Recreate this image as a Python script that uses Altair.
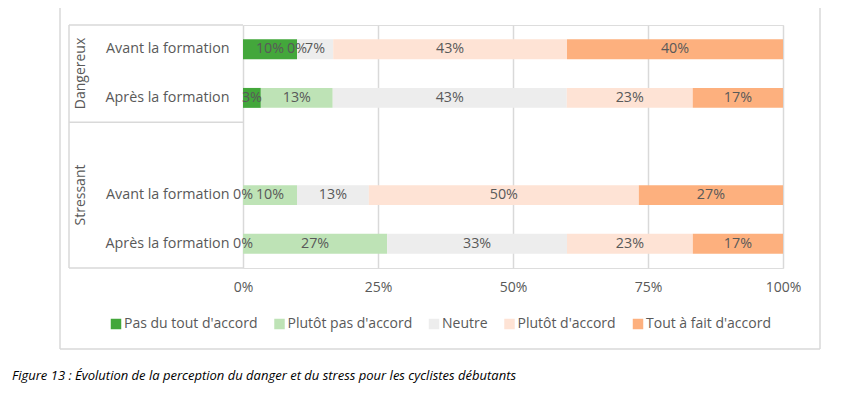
import altair as alt
import pandas as pd

# ---- data -------------------------------------------------------------
categories = ["Pas du tout d'accord", "Plutôt pas d'accord", "Neutre",
              "Plutôt d'accord", "Tout à fait d'accord"]
colors = ["#43A73B", "#BEE3B6", "#EDEDED", "#FEE3D5", "#FDB07E"]

row_keys = ["D1", "D2", "gap", "S1", "S2"]
row_labels = ["Avant la formation", "Après la formation", "",
              "Avant la formation", "Après la formation"]
groups = ["Dangereux", "Stressant"]

dangereux_avant = [10.0, 0.0, 6.7, 43.3, 40.0]
dangereux_apres = [3.3, 13.3, 43.3, 23.3, 16.7]
stressant_avant = [0.0, 10.0, 13.3, 50.0, 26.7]
stressant_apres = [0.0, 26.7, 33.3, 23.3, 16.7]

x_ticks = [0, 0.25, 0.5, 0.75, 1]
caption = ("Figure 13 : Évolution de la perception du danger et du stress "
           "pour les cyclistes débutants")

series = {"D1": dangereux_avant, "D2": dangereux_apres,
          "S1": stressant_avant, "S2": stressant_apres}
records = []
for key, vals in series.items():
    for i, (cat, v) in enumerate(zip(categories, vals)):
        records.append({"row": key, "cat": cat, "order": i, "value": v})
df = pd.DataFrame(records)

label_map = "{" + ",".join(f"'{k}':'{l}'" for k, l in zip(row_keys, row_labels)) + "}"

FONT = "Open Sans"
TXT = "#595959"
LINE = "#D9D9D9"

W, H = 540, 243

base = alt.Chart(df).transform_stack(
    stack="value", groupby=["row"], as_=["x0", "x1"], offset="normalize",
    sort=[alt.SortField("order", order="ascending")]
).transform_calculate(
    mid="(datum.x0 + datum.x1) / 2",
    lbl="format(datum.value, '.0f') + '%'"
)

yenc = alt.Y("row:N", scale=alt.Scale(domain=row_keys, paddingInner=0.59, paddingOuter=0.295),
             axis=alt.Axis(title=None, labelExpr=f"{label_map}[datum.value]",
                           ticks=False, domain=False, labelPadding=14,
                           labelFont=FONT, labelFontSize=14.3, labelColor=TXT,
                           labelLimit=300))

bars = base.mark_bar().encode(
    x=alt.X("x0:Q", scale=alt.Scale(domain=[0, 1]),
            axis=alt.Axis(title=None, values=x_ticks, format=".0%", ticks=False,
                          domain=False, grid=True, gridColor=LINE, gridWidth=1.5,
                          labelFont=FONT, labelFontSize=14, labelColor=TXT,
                          labelPadding=12, labelFlush=False)),
    x2="x1:Q",
    y=yenc,
    color=alt.Color("cat:N", scale=alt.Scale(domain=categories, range=colors),
                    legend=alt.Legend(title=None, orient="none", direction="horizontal",
                                      columns=5, legendX=-134, legendY=292,
                                      symbolType="square", symbolSize=110,
                                      symbolStrokeWidth=0, labelFont=FONT,
                                      labelFontSize=14, labelColor=TXT,
                                      columnPadding=14.5, labelOffset=1,
                                      labelLimit=300)),
)

texts = base.mark_text(font=FONT, fontSize=14.3, color=TXT).encode(
    x=alt.X("mid:Q"),
    y=alt.Y("row:N"),
    text="lbl:N",
)

gdf = pd.DataFrame({"g": groups, "py": [48.5, 170]})
group_text = alt.Chart(gdf).mark_text(font=FONT, fontSize=14, color=TXT, angle=270).encode(
    x=alt.value(-162), y=alt.Y("py:Q", scale=None), text="g:N")

def hrule(y, x1, x2):
    return alt.Chart(pd.DataFrame({"a": [0]})).mark_rule(color=LINE, strokeWidth=1.5).encode(
        x=alt.value(x1), x2=alt.value(x2), y=alt.value(y))

def vrule(x, y1, y2):
    return alt.Chart(pd.DataFrame({"a": [0]})).mark_rule(color=LINE, strokeWidth=1.5).encode(
        x=alt.value(x), y=alt.value(y1), y2=alt.value(y2))

box = [hrule(0, -174, 0), hrule(97.2, -174, 0), hrule(H, -174, 0), vrule(-174, 0, H)]
frame = [vrule(-183, -17, 324), vrule(577, -17, 324), hrule(324, -183, 577)]

cap = alt.Chart(pd.DataFrame({"t": [caption]})).mark_text(
    font=FONT, fontSize=13, fontStyle="italic", color="#000000", align="left",
    baseline="middle").encode(x=alt.value(-231), y=alt.value(351), text="t:N")

chart = alt.layer(*frame, *box, bars, texts, group_text, cap).properties(
    width=W, height=H,
    autosize=alt.AutoSizeParams(type="none"),
    padding={"left": 235, "top": 17, "right": 52, "bottom": 117},
).configure_view(stroke=None).configure(background="white")

chart.save("out.html", embed_options={"renderer": "svg", "actions": False})
